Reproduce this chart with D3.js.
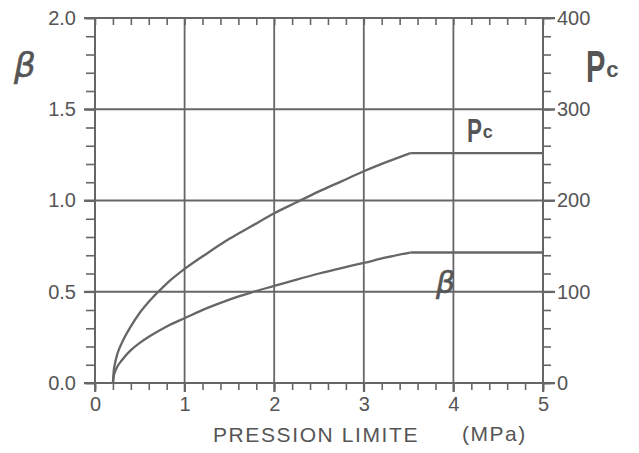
<!DOCTYPE html>
<html>
<head>
<meta charset="utf-8">
<script src="https://cdn.jsdelivr.net/npm/d3@7"></script>
<style>
  body { margin: 0; background: #fff; }
  svg { display: block; }
  .tick text { font-family: "Liberation Sans", Arial, sans-serif; font-size: 20px; fill: #555; }
  .tick line { stroke: #666; stroke-width: 1.6; }
</style>
</head>
<body>
<div id="chart"></div>
<script>
// pression limite (MPa)
const pl = [0.2, 0.21, 0.22, 0.25, 0.3, 0.4, 0.5, 0.6, 0.8, 1.0, 1.25, 1.5, 1.75, 2.0, 2.25, 2.5, 2.75, 3.0, 3.25, 3.52, 5.0];
// beta (left axis)
const beta = [0, 0.04, 0.057, 0.09, 0.125, 0.18, 0.22, 0.253, 0.31, 0.355, 0.41, 0.457, 0.497, 0.532, 0.567, 0.6, 0.63, 0.658, 0.688, 0.715, 0.715];
// pc (right axis)
const pc = [0, 14, 20, 32, 44, 62, 77, 89, 109, 125, 142, 158, 172, 186, 198, 210, 221, 232, 242, 252, 252];

const xTicks = [0, 1, 2, 3, 4, 5];
const betaTicks = [0.0, 0.5, 1.0, 1.5, 2.0];
const pcTicks = [0, 100, 200, 300, 400];

const width = 639, height = 453;
const margin = { top: 18, right: 96, bottom: 70, left: 95 };
const ink = '#666', textInk = '#555';

const svg = d3.select('#chart').append('svg')
    .attr('width', width)
    .attr('height', height);

const x = d3.scaleLinear().domain([0, 5]).range([margin.left, width - margin.right]);
const yL = d3.scaleLinear().domain([0, 2]).range([height - margin.bottom, margin.top]);
const yR = d3.scaleLinear().domain([0, 400]).range([height - margin.bottom, margin.top]);

const x0 = x(0), x1 = x(5), y0 = yL(0), y1 = yL(2);

// grid lines (extend past the frame as major ticks)
svg.append('g').selectAll('line')
    .data(betaTicks)
    .enter().append('line')
    .attr('x1', x0 - 11).attr('x2', x1 + 12)
    .attr('y1', d => yL(d)).attr('y2', d => yL(d))
    .attr('stroke', ink).attr('stroke-width', 1.8);

svg.append('g').selectAll('line')
    .data(xTicks)
    .enter().append('line')
    .attr('x1', d => x(d)).attr('x2', d => x(d))
    .attr('y1', y1).attr('y2', y0 + 9)
    .attr('stroke', ink).attr('stroke-width', 1.8);

// minor ticks
const minorX = d3.range(0, 5.001, 0.2);
const minorL = d3.range(0, 2.001, 0.1);
const minorR = d3.range(0, 400.1, 20);

svg.append('g')
    .attr('transform', `translate(0,${y0})`)
    .call(d3.axisBottom(x).tickValues(minorX).tickSize(7).tickFormat(''))
    .call(g => g.select('.domain').remove());

svg.append('g')
    .attr('transform', `translate(0,${y1})`)
    .call(d3.axisTop(x).tickValues(minorX).tickSize(-7).tickFormat(''))
    .call(g => g.select('.domain').remove());

svg.append('g')
    .attr('transform', `translate(${x0},0)`)
    .call(d3.axisLeft(yL).tickValues(minorL).tickSize(9).tickFormat(''))
    .call(g => g.select('.domain').remove());

svg.append('g')
    .attr('transform', `translate(${x1},0)`)
    .call(d3.axisRight(yR).tickValues(minorR).tickSize(8).tickFormat(''))
    .call(g => g.select('.domain').remove());

// labelled axes
svg.append('g')
    .attr('transform', `translate(0,${y0})`)
    .call(d3.axisBottom(x).tickValues(xTicks).tickSize(9).tickPadding(5).tickFormat(d3.format('d')))
    .call(g => g.select('.domain').remove());

svg.append('g')
    .attr('transform', `translate(${x0},0)`)
    .call(d3.axisLeft(yL).tickValues(betaTicks).tickSize(11).tickPadding(8).tickFormat(d3.format('.1f')))
    .call(g => g.select('.domain').remove());

svg.append('g')
    .attr('transform', `translate(${x1},0)`)
    .call(d3.axisRight(yR).tickValues(pcTicks).tickSize(12).tickPadding(2).tickFormat(d3.format('d')))
    .call(g => g.select('.domain').remove());

// frame
svg.append('rect')
    .attr('x', x0).attr('y', y1)
    .attr('width', x1 - x0).attr('height', y0 - y1)
    .attr('fill', 'none')
    .attr('stroke', ink).attr('stroke-width', 2);

// curves: rising part smoothed, plateau straight
const n = pl.length;
const rise = d3.range(0, n - 1);
const flat = [n - 2, n - 1];

function drawSeries(vals, yScale) {
    const smooth = d3.line().x(i => x(pl[i])).y(i => yScale(vals[i])).curve(d3.curveMonotoneX);
    const straight = d3.line().x(i => x(pl[i])).y(i => yScale(vals[i]));
    svg.append('path').datum(rise).attr('d', smooth)
        .attr('fill', 'none').attr('stroke', ink).attr('stroke-width', 2.3);
    svg.append('path').datum(flat).attr('d', straight)
        .attr('fill', 'none').attr('stroke', ink).attr('stroke-width', 2.3);
}
drawSeries(beta, yL);
drawSeries(pc, yR);

// labels
const font = '"Liberation Sans", Arial, sans-serif';

function greek(xp, yp, size) {
    svg.append('text')
        .attr('x', xp).attr('y', yp)
        .attr('font-family', '"DejaVu Sans", sans-serif')
        .attr('font-style', 'italic')
        .attr('font-size', size)
        .attr('fill', textInk)
        .attr('stroke', textInk).attr('stroke-width', 0.6)
        .text('β');
}
greek(14, 77, 34);
greek(436, 293, 30);

function pcLabel(xp, yp, size, sub) {
    svg.append('text')
        .attr('transform', `translate(${xp},${yp}) scale(0.66,1)`)
        .attr('font-family', font)
        .attr('font-size', size)
        .attr('font-weight', 'bold')
        .attr('fill', textInk)
        .text('P');
    svg.append('text')
        .attr('x', xp + size * 0.46).attr('y', yp - size * 0.12)
        .attr('font-family', font)
        .attr('font-size', sub)
        .attr('font-weight', 'bold')
        .attr('fill', textInk)
        .text('c');
}
pcLabel(586, 82, 44, 22);
pcLabel(467, 142, 34, 18);

svg.append('text')
    .attr('x', 213).attr('y', 442)
    .attr('font-family', font)
    .attr('font-size', 21)
    .attr('letter-spacing', 1.6)
    .attr('fill', textInk)
    .text('PRESSION  LIMITE');

svg.append('text')
    .attr('x', 462).attr('y', 441)
    .attr('font-family', font)
    .attr('font-size', 21)
    .attr('letter-spacing', 1.5)
    .attr('fill', textInk)
    .text('(MPa)');
</script>
</body>
</html>
